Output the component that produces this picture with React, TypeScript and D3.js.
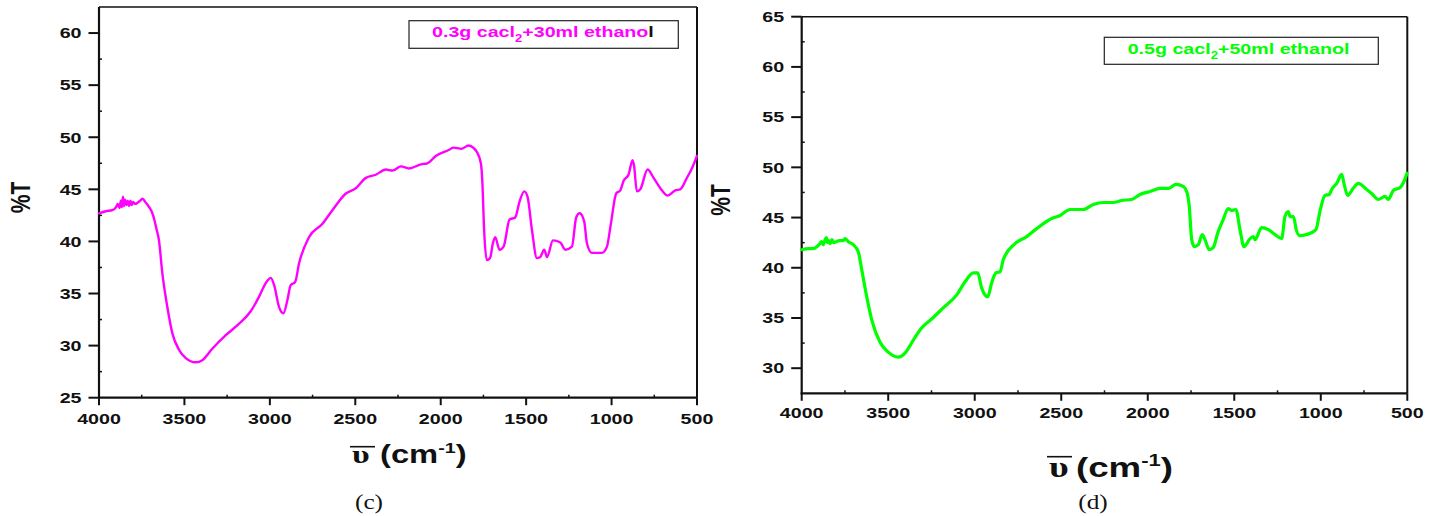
import React from "react";
import * as d3 from "d3";

// ---------- data ----------
const wavenumberC = [4000, 3960, 3922, 3900, 3890, 3880, 3872, 3866, 3860, 3854, 3848, 3840, 3832, 3824, 3816, 3808, 3800, 3790, 3775, 3760, 3746, 3725, 3707, 3690, 3678, 3665, 3649, 3629, 3600, 3571, 3532, 3492, 3434, 3395, 3337, 3258, 3180, 3112, 3063, 3024, 2995, 2975, 2946, 2921, 2897, 2878, 2852, 2829, 2771, 2692, 2634, 2555, 2497, 2438, 2380, 2321, 2282, 2233, 2185, 2116, 2078, 2029, 1950, 1926, 1877, 1838, 1810, 1789, 1765, 1756, 1746, 1730, 1711, 1695, 1681, 1656, 1632, 1597, 1564, 1539, 1511, 1492, 1466, 1437, 1418, 1394, 1378, 1343, 1300, 1271, 1232, 1207, 1187, 1160, 1144, 1115, 1056, 1027, 1004, 973, 949, 930, 901, 877, 868, 852, 832, 789, 754, 705, 672, 627, 598, 559, 530, 500];
const transmittanceC = [42.7, 42.9, 43.0, 43.3, 43.6, 43.2, 43.9, 43.3, 44.3, 43.4, 44.0, 43.5, 43.9, 43.4, 43.9, 43.5, 43.8, 43.6, 43.7, 43.9, 44.1, 43.7, 43.3, 42.8, 42.2, 41.3, 40.1, 36.9, 33.7, 31.2, 29.6, 28.8, 28.4, 28.6, 29.7, 31.0, 32.1, 33.3, 34.7, 36.0, 36.5, 35.8, 33.7, 33.1, 34.4, 35.8, 36.1, 37.9, 40.4, 41.7, 43.0, 44.6, 45.1, 46.1, 46.4, 46.9, 46.8, 47.2, 47.0, 47.4, 47.5, 48.2, 48.8, 49.0, 48.9, 49.2, 49.0, 48.6, 47.5, 45.6, 41.1, 38.2, 38.4, 39.8, 40.4, 39.2, 39.5, 42.1, 42.3, 43.8, 44.8, 44.3, 41.1, 38.4, 38.5, 39.2, 38.5, 40.1, 39.9, 39.2, 39.5, 42.3, 42.7, 41.9, 39.8, 38.9, 38.9, 39.5, 41.7, 44.6, 44.9, 45.8, 46.4, 47.8, 47.2, 44.8, 45.0, 46.9, 46.1, 44.9, 44.4, 44.9, 45.0, 46.1, 47.0, 48.2];

const wavenumberD = [4000, 3960, 3933, 3920, 3900, 3885, 3875, 3865, 3857, 3850, 3842, 3835, 3825, 3815, 3800, 3780, 3760, 3750, 3730, 3702, 3673, 3653, 3624, 3595, 3548, 3500, 3442, 3403, 3355, 3307, 3249, 3182, 3104, 3056, 3008, 2983, 2960, 2925, 2902, 2877, 2854, 2835, 2767, 2700, 2642, 2555, 2507, 2449, 2373, 2315, 2257, 2199, 2151, 2093, 2045, 1987, 1929, 1881, 1837, 1795, 1775, 1760, 1746, 1731, 1708, 1685, 1669, 1645, 1622, 1593, 1564, 1535, 1516, 1491, 1467, 1444, 1409, 1390, 1380, 1342, 1303, 1264, 1226, 1207, 1188, 1177, 1158, 1142, 1122, 1084, 1028, 1005, 976, 951, 937, 908, 879, 866, 845, 813, 784, 735, 706, 668, 629, 610, 581, 541, 512, 502];
const transmittanceD = [41.8, 41.9, 41.9, 42.0, 42.3, 42.6, 42.3, 42.8, 43.0, 42.5, 42.7, 42.4, 42.8, 42.5, 42.6, 42.7, 42.7, 42.9, 42.6, 42.3, 41.6, 39.8, 37.1, 34.8, 32.6, 31.6, 31.1, 31.5, 32.8, 34.0, 34.9, 36.0, 37.3, 38.6, 39.5, 39.5, 38.0, 37.1, 38.5, 39.5, 39.6, 40.8, 42.4, 43.1, 43.9, 44.9, 45.2, 45.8, 45.8, 46.3, 46.5, 46.5, 46.7, 46.8, 47.3, 47.6, 47.9, 47.9, 48.3, 48.1, 47.6, 46.1, 42.8, 42.1, 42.3, 43.3, 42.8, 41.8, 42.0, 43.6, 44.8, 45.9, 45.7, 45.8, 43.8, 42.1, 42.9, 43.1, 42.8, 44.0, 43.8, 43.3, 42.9, 45.1, 45.6, 45.1, 45.1, 43.8, 43.2, 43.3, 43.8, 45.6, 47.2, 47.3, 47.8, 48.4, 49.3, 48.4, 47.2, 47.9, 48.4, 47.8, 47.4, 46.8, 47.1, 46.8, 47.7, 48.0, 48.9, 49.4];

const xTicks = [4000, 3500, 3000, 2500, 2000, 1500, 1000, 500];
const xMinorTicks = [3750, 3250, 2750, 2250, 1750, 1250, 750];
const yTicksC = [25, 30, 35, 40, 45, 50, 55, 60];
const yMinorC = [27.5, 32.5, 37.5, 42.5, 47.5, 52.5, 57.5];
const yTicksD = [30, 35, 40, 45, 50, 55, 60, 65];
const yMinorD = [32.5, 37.5, 42.5, 47.5, 52.5, 57.5, 62.5];

const SX = 1.31;
const SANS = "'Liberation Sans', Arial, sans-serif";
const SERIF = "'Liberation Serif', 'Times New Roman', serif";

type PanelProps = {
  xs: number[];
  ys: number[];
  color: string;
  strokeW: number;
  left: number; right: number; top: number; bottom: number;
  yDomain: [number, number];
  yTicks: number[];
  yMinor: number[];
  xLabelBase: number;
  yTitleX: number; yTitleY: number;
  legend: { x: number; y: number; w: number; h: number; tx: number; ty: number; amount: string; rest: string; tail: string; tailColor: string };
  title: { ux: number; overY: number; base: number; cx: number; size: number; };
  caption: { cx: number; base: number; text: string };
};

function St({ x, y, children, anchor = "start", size = 15, family = SANS, weight = "bold", fill = "#111", sx = SX }: any) {
  return (
    <g transform={`translate(${x},${y}) scale(${sx},1)`}>
      <text textAnchor={anchor} fontSize={size} fontFamily={family} fontWeight={weight} fill={fill}>{children}</text>
    </g>
  );
}

function Panel(p: PanelProps) {
  const x = d3.scaleLinear().domain([4000, 500]).range([p.left, p.right]);
  const y = d3.scaleLinear().domain(p.yDomain).range([p.bottom, p.top]);
  const pts = p.xs.map((v, i) => [v, p.ys[i]] as [number, number]);
  const line = d3.line<[number, number]>().x(d => x(d[0])).y(d => y(d[1])).curve(d3.curveMonotoneX);
  return (
    <g>
      {/* frame */}
      <line x1={p.left} x2={p.right} y1={p.top} y2={p.top} stroke="#111" strokeWidth={1.6} />
      <line x1={p.right} x2={p.right} y1={p.top} y2={p.bottom} stroke="#111" strokeWidth={2} />
      <line x1={p.left} x2={p.left} y1={p.top} y2={p.bottom + 1} stroke="#111" strokeWidth={2.2} />
      <line x1={p.left - 1} x2={p.right} y1={p.bottom} y2={p.bottom} stroke="#111" strokeWidth={2.2} />
      {/* y ticks */}
      {p.yTicks.map(t => (
        <g key={"y" + t}>
          <line x1={p.left - 10.5} x2={p.left} y1={y(t)} y2={y(t)} stroke="#111" strokeWidth={2} />
          <St x={p.left - 17.5} y={y(t) + 5.3} anchor="end">{t}</St>
        </g>
      ))}
      {p.yMinor.map(t => (
        <line key={"ym" + t} x1={p.left} x2={p.left + 3} y1={y(t)} y2={y(t)} stroke="#111" strokeWidth={1.5} />
      ))}
      {/* x ticks */}
      {xTicks.map(t => (
        <g key={"x" + t}>
          <line x1={x(t)} x2={x(t)} y1={p.bottom} y2={p.bottom + 7.5} stroke="#111" strokeWidth={2} />
          <St x={x(t)} y={p.xLabelBase} anchor="middle">{t}</St>
        </g>
      ))}
      {xMinorTicks.map(t => (
        <line key={"xm" + t} x1={x(t)} x2={x(t)} y1={p.bottom} y2={p.bottom - 3} stroke="#111" strokeWidth={1.5} />
      ))}
      {/* curve */}
      <path d={line(pts) || ""} fill="none" stroke={p.color} strokeWidth={p.strokeW} strokeLinejoin="round" strokeLinecap="round" />
      {/* legend */}
      <rect x={p.legend.x} y={p.legend.y} width={p.legend.w} height={p.legend.h} fill="none" stroke="#222" strokeWidth={1.2} />
      <g transform={`translate(${p.legend.tx},${p.legend.ty}) scale(${SX},1)`}>
        <text fontSize={15} fontFamily={SANS} fontWeight="bold" fill={p.color}>
          {p.legend.amount}
          <tspan fontSize={10} dy={5}>2</tspan>
          <tspan dy={-5}>{p.legend.rest}</tspan>
          <tspan fill={p.legend.tailColor}>{p.legend.tail}</tspan>
        </text>
      </g>
      {/* y title */}
      <g transform={`translate(${p.yTitleX},${p.yTitleY}) scale(${SX},1) rotate(-90)`}>
        <text textAnchor="middle" fontSize={21} fontFamily={SANS} fontWeight="bold" fill="#111">%T</text>
      </g>
      {/* x title */}
      <line x1={p.title.ux} x2={p.title.ux + 25} y1={p.title.overY} y2={p.title.overY} stroke="#111" strokeWidth={1.6} />
      <St x={p.title.ux + 2} y={p.title.base} size={p.title.size + 1} family={SERIF}>υ</St>
      <g transform={`translate(${p.title.cx},${p.title.base}) scale(${SX},1)`}>
        <text fontSize={p.title.size} fontFamily={SANS} fontWeight="bold" fill="#111">
          (cm<tspan fontSize={p.title.size * 0.6} dy={-p.title.size * 0.4}>-1</tspan>
          <tspan dy={p.title.size * 0.4}>)</tspan>
        </text>
      </g>
      {/* caption */}
      <St x={p.caption.cx} y={p.caption.base} anchor="middle" size={22} family={SERIF} weight="normal" sx={1.15}>{p.caption.text}</St>
    </g>
  );
}

export default function App() {
  return (
    <svg width={1439} height={516} style={{ position: "absolute", left: 0, top: 0, background: "#fff" }}>
      <rect x={0} y={0} width={1439} height={516} fill="#fff" />
      <Panel
        xs={wavenumberC} ys={transmittanceC} color="#ff00ff" strokeW={2.4}
        left={99} right={697} top={7} bottom={397.7}
        yDomain={[25, 62.5]} yTicks={yTicksC} yMinor={yMinorC}
        xLabelBase={424}
        yTitleX={30} yTitleY={197.5}
        legend={{ x: 409, y: 20.7, w: 269.3, h: 27.6, tx: 432, ty: 37.3, amount: "0.3g cacl", rest: "+30ml ethano", tail: "l", tailColor: "#111" }}
        title={{ ux: 350, overY: 446.7, base: 463.3, cx: 380, size: 25 }}
        caption={{ cx: 369, base: 509, text: "(c)" }}
      />
      <Panel
        xs={wavenumberD} ys={transmittanceD} color="#00ff00" strokeW={3.2}
        left={801.7} right={1407.3} top={16.7} bottom={393.3}
        yDomain={[27.5, 65]} yTicks={yTicksD} yMinor={yMinorD}
        xLabelBase={418.3}
        yTitleX={730} yTitleY={200}
        legend={{ x: 1104.3, y: 37.3, w: 274, h: 27, tx: 1127.7, ty: 54, amount: "0.5g cacl", rest: "+50ml ethanol", tail: "", tailColor: "#00ff00" }}
        title={{ ux: 1047, overY: 456.7, base: 476.7, cx: 1076, size: 28 }}
        caption={{ cx: 1093, base: 509, text: "(d)" }}
      />
    </svg>
  );
}
